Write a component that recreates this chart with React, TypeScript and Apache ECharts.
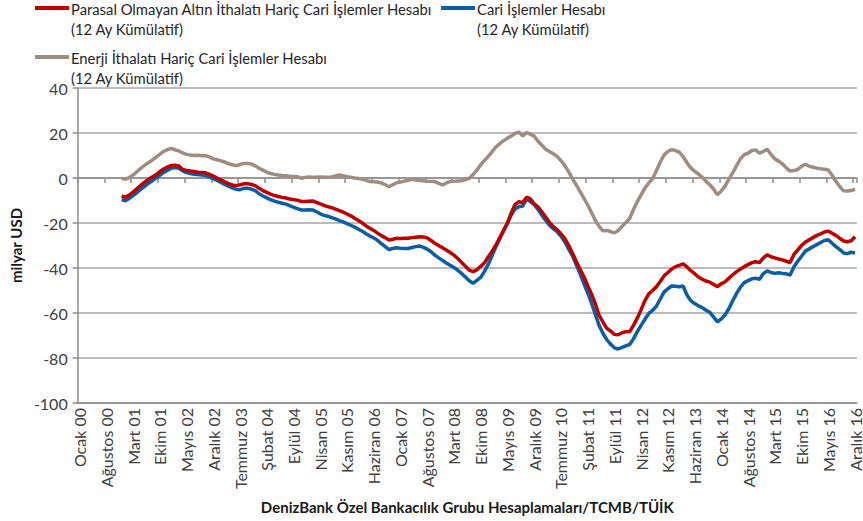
import React, { useEffect, useRef } from "react";
import * as echarts from "echarts";

const monthNames = ["Ocak", "Şubat", "Mart", "Nisan", "Mayıs", "Haziran", "Temmuz", "Ağustos", "Eylül", "Ekim", "Kasım", "Aralık"];
const years = ["00", "01", "02", "03", "04", "05", "06", "07", "08", "09", "10", "11", "12", "13", "14", "15", "16"];
const categories: string[] = [];
years.forEach((y) => monthNames.forEach((m) => categories.push(m + " " + y)));

const startIndex = 11; // Aralık 00

const yTicks = [40, 20, 0, -20, -40, -60, -80, -100];

const seriesNames = [
  "Parasal Olmayan Altın İthalatı Hariç Cari İşlemler Hesabı\n(12 Ay Kümülatif)",
  "Cari İşlemler Hesabı\n(12 Ay Kümülatif)",
  "Enerji İthalatı Hariç Cari İşlemler Hesabı\n(12 Ay Kümülatif)",
];

const redValues = [
  -8.0, -8.6, -7.6, -6.3, -4.8, -3.3, -1.9, -0.6, 0.4, 1.4, 2.8, 4.0, 4.8, 5.6, 5.7, 5.3,
  3.8, 3.4, 3.1, 2.9, 2.6, 2.5, 2.3, 1.6, 0.8, 0.0,
  -0.8, -1.7, -2.5, -3.1, -3.4, -3.0, -2.6, -2.5, -2.9, -3.4,
  -4.6, -5.6, -6.4, -7.2, -7.8, -8.2, -8.6, -8.9, -9.3, -9.6,
  -9.9, -10.4, -10.4, -10.3, -10.2, -10.8, -11.5, -12.2, -12.7, -13.2,
  -13.8, -14.5, -15.2, -16.0, -16.8, -17.9, -18.9, -20.0, -21.3, -22.3,
  -23.3, -24.5, -25.6, -26.5, -27.6, -27.2, -26.8, -26.9, -26.8, -26.8,
  -26.5, -26.3, -26.1, -26.2, -26.6, -27.8, -29.0, -30.0, -31.0, -32.0,
  -33.1, -34.3, -35.8, -37.5, -39.2, -40.9, -41.6, -40.8, -39.3, -37.7,
  -35.0, -32.5, -29.8, -26.5, -23.2, -20.0, -15.5, -11.8, -10.5, -11.0,
  -8.5, -9.3,
  -11.5, -12.8, -15.0, -17.3, -19.7, -21.6, -23.0, -24.8, -26.8, -29.8,
  -33.3, -37.0, -40.5, -43.8, -47.8, -51.5, -55.8, -61.0, -64.0, -66.8,
  -68.0, -69.5, -69.7, -68.8, -68.3, -68.3, -65.5, -62.3, -58.5, -54.5,
  -51.5, -50.0, -48.3, -46.0, -43.5, -42.0, -40.5, -39.4, -38.8, -38.2,
  -39.5, -41.2, -42.5, -44.0, -45.0, -45.8, -46.3, -47.3, -48.3, -47.0,
  -46.1, -44.5, -43.0, -41.6, -40.5, -39.4, -38.5, -37.6, -37.2, -37.6,
  -35.5, -34.2, -35.0, -35.5, -36.0, -36.4, -37.0, -37.6, -34.0, -32.0,
  -30.0, -28.5, -27.5, -26.5, -25.5, -24.8, -24.0, -23.6, -24.6, -25.5,
  -26.8, -28.0, -28.3, -27.9, -26.1,
];

const blueValues = [
  -9.6, -10.1, -9.0, -7.8, -6.5, -5.0, -3.7, -2.4, -1.2, 0.0, 1.2, 2.5, 3.5, 4.4, 4.6, 4.3,
  3.2, 2.4, 2.0, 1.7, 1.5, 1.3, 1.1, 0.4, -0.3, -1.1,
  -2.0, -2.8, -3.6, -4.4, -5.0, -5.2, -4.6, -4.5, -5.0, -5.6,
  -7.0, -8.0, -8.8, -9.6, -10.3, -10.8, -11.2, -11.6, -12.3, -13.0,
  -13.6, -14.2, -14.2, -14.1, -14.2, -15.0, -15.9, -16.6, -17.0, -17.6,
  -18.2, -18.9, -19.5, -20.3, -21.0, -21.8, -22.8, -23.7, -24.8, -25.8,
  -26.6, -27.7, -29.2, -30.5, -31.8, -31.3, -31.0, -31.2, -31.3, -31.3,
  -30.9, -30.5, -30.2, -30.8, -31.6, -32.8, -34.3, -35.5, -36.6, -37.8,
  -38.8, -39.8, -41.0, -42.4, -44.0, -45.7, -46.8, -45.5, -44.2, -41.5,
  -38.3, -34.5, -30.5, -27.0, -23.5, -20.2, -16.5, -13.8, -12.8, -12.5,
  -9.3, -10.5,
  -11.8, -14.0, -16.5, -18.8, -21.0, -22.5, -23.8, -25.8, -28.3, -31.5,
  -34.5, -38.5, -42.5, -46.8, -51.0, -55.5, -60.5, -65.5, -69.0, -71.8,
  -73.8, -75.5, -76.0, -75.3, -74.6, -74.0, -71.5, -68.3, -65.5, -62.8,
  -60.2, -58.8, -57.0, -53.8, -50.7, -49.2, -48.0, -48.1, -48.3, -48.0,
  -52.0, -54.5, -55.8, -56.8, -57.6, -58.8, -59.7, -61.8, -63.9, -62.6,
  -60.8, -58.0, -54.5, -51.3, -48.5, -46.5, -45.6, -44.8, -44.6, -45.0,
  -42.5, -41.3, -42.0, -42.4, -42.1, -42.4, -42.6, -43.1, -39.5, -37.0,
  -34.8, -32.5, -31.5, -30.5, -29.6, -28.7, -27.8, -27.4, -29.0, -30.5,
  -31.8, -33.3, -33.6, -33.0, -33.3,
];

const brownValues = [
  -0.2, -0.5, 0.2, 1.3, 2.8, 4.3, 5.6, 6.8, 7.9, 9.3, 10.5, 11.8, 12.6, 13.2, 12.5, 12.0,
  11.2, 10.5, 10.2, 10.0, 10.1, 9.9, 9.9, 9.4, 8.5, 8.1,
  7.6, 7.1, 6.4, 5.9, 5.5, 6.0, 6.5, 6.4, 6.2, 5.4,
  4.3, 3.5, 2.6, 2.0, 1.6, 1.3, 1.1, 1.0, 0.8, 0.7,
  0.6, -0.1, 0.2, 0.4, 0.3, 0.3, 0.5, 0.3, 0.3, 0.5,
  0.9, 1.3, 1.0, 0.6, 0.3, 0.0, -0.2, -0.5, -1.0, -1.6,
  -1.7, -1.8, -2.2, -3.0, -3.9, -3.0, -2.1, -1.8, -1.4, -1.0,
  -0.6, -0.9, -1.1, -1.2, -1.4, -1.5, -1.6, -2.4, -3.1, -2.2,
  -1.6, -1.5, -1.3, -1.2, -0.7, -0.1, 1.5, 3.5, 5.9, 7.8,
  9.6, 11.7, 13.8, 15.3, 16.6, 17.7, 18.7, 19.8, 20.4, 18.7,
  20.2, 19.5,
  18.6, 16.3, 14.6, 12.8, 11.8, 10.8, 9.6, 7.8, 5.6, 2.8,
  -0.2, -3.0, -6.0, -8.9, -12.0, -15.3, -18.8, -21.5, -23.5, -23.3,
  -23.8, -24.4, -23.3, -21.5, -19.8, -18.0, -14.0, -10.5, -7.5, -4.5,
  -2.2, -0.3, 3.2, 7.0, 10.2, 11.8, 12.6, 12.2, 11.5, 9.5,
  6.8, 4.5, 3.0, 1.8, 0.3, -1.5, -3.0, -5.0, -7.4, -5.8,
  -3.5, -0.5, 2.4, 5.5, 8.5, 10.4, 11.0, 12.2, 12.5, 11.0,
  11.8, 12.8, 10.5, 8.5, 7.5, 6.3, 4.5, 3.1, 3.3, 3.8,
  5.2, 6.1, 5.3, 4.8, 4.4, 4.1, 3.9, 3.6, 1.2, -1.5,
  -3.8, -5.7, -5.8, -5.6, -5.0,
];

const colors = ["#C00000", "#0A5DA6", "#A08D80"];

const pad = (vals: number[]) => {
  const out: (number | null)[] = [];
  for (let i = 0; i < startIndex; i++) out.push(null);
  return out.concat(vals);
};

const FONT = "Lato";

export default function App() {
  const ref = useRef<HTMLDivElement>(null);
  useEffect(() => {
    document.body.style.margin = "0";
    const chart = echarts.init(ref.current!, null, { renderer: "svg" });
    const legendItems = [
      { x: 35, y: 8, color: colors[0], text: seriesNames[0] },
      { x: 441, y: 8, color: colors[1], text: seriesNames[1] },
      { x: 35, y: 57, color: colors[2], text: seriesNames[2] },
    ];
    const graphic: any[] = [];
    legendItems.forEach((it) => {
      graphic.push({
        type: "line",
        shape: { x1: it.x, y1: it.y, x2: it.x + 34, y2: it.y },
        style: { stroke: it.color, lineWidth: 4 },
      });
      const lines = it.text.split("\n");
      lines.forEach((t, k) => {
        graphic.push({
          type: "text",
          x: it.x + 36,
          y: it.y + 1 + k * 19.5,
          style: {
            text: t,
            font: `14.8px ${FONT}`,
            fill: "#262626",
            textVerticalAlign: "middle",
          },
        });
      });
    });
    const axisLabelStyle = { color: "#404040", fontSize: 16, fontFamily: FONT };
    chart.setOption({
      animation: false,
      textStyle: { fontFamily: FONT },
      grid: { left: 71, right: 1, top: 88, bottom: 118, containLabel: false },
      graphic,
      xAxis: [
        {
          type: "category",
          data: categories,
          boundaryGap: true,
          position: "bottom",
          axisLine: { onZero: false, lineStyle: { color: "#8c8c8c", width: 1.5 } },
          axisTick: { show: false },
          axisLabel: { ...axisLabelStyle, interval: 6, rotate: 90, margin: 5 },
          splitLine: { show: false },
          name: "DenizBank Özel Bankacılık Grubu Hesaplamaları/TCMB/TÜİK",
          nameLocation: "middle",
          nameGap: 96,
          nameTextStyle: { fontWeight: "bold", fontSize: 15, color: "#1a1a1a", fontFamily: FONT },
        },
        {
          type: "category",
          data: categories,
          boundaryGap: true,
          position: "bottom",
          axisLine: { show: true, onZero: true, lineStyle: { color: "#8c8c8c", width: 1.5 } },
          axisTick: { show: true, interval: 6, length: 5, lineStyle: { color: "#8c8c8c", width: 1.5 } },
          axisLabel: { show: false },
          splitLine: { show: false },
        },
      ],
      yAxis: {
        type: "value",
        min: -100,
        max: 40,
        interval: 20,
        axisLine: { show: true, lineStyle: { color: "#8c8c8c", width: 1.5 } },
        axisTick: { show: true, length: 5, lineStyle: { color: "#8c8c8c", width: 1.5 } },
        axisLabel: { ...axisLabelStyle, margin: 10 },
        splitLine: { show: true, lineStyle: { color: "#a6a6a6", width: 1.5 } },
        name: "milyar USD",
        nameLocation: "middle",
        nameGap: 49,
        nameRotate: 90,
        nameTextStyle: { fontWeight: "bold", fontSize: 15, color: "#1a1a1a", fontFamily: FONT },
      },
      series: [
        { name: seriesNames[2], type: "line", data: pad(brownValues), color: colors[2] },
        { name: seriesNames[1], type: "line", data: pad(blueValues), color: colors[1] },
        { name: seriesNames[0], type: "line", data: pad(redValues), color: colors[0] },
      ].map((s) => ({
        ...s,
        showSymbol: false,
        symbol: "none",
        lineStyle: { width: 3.5, color: s.color },
        xAxisIndex: 0,
      })),
    });
    return () => chart.dispose();
  }, []);
  return <div ref={ref} style={{ width: 863, height: 521 }} />;
}
